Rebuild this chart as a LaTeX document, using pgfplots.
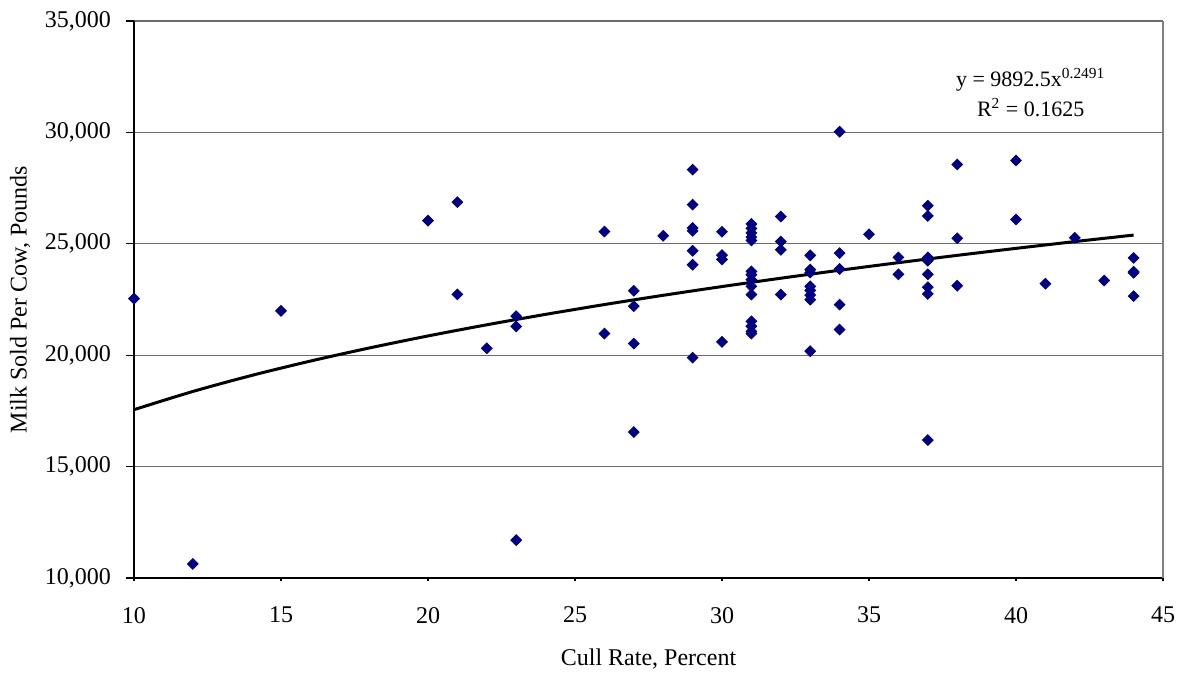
\documentclass[border=0pt]{standalone}
\usepackage{fontspec}
\setmainfont{Liberation Serif}
\usepackage{pgfplots}
\pgfplotsset{compat=1.18}
\definecolor{navy}{HTML}{000080}

\begin{document}
\begin{tikzpicture}
\begin{axis}[
    name=ax,
    scale only axis,
    width=514.5pt,
    height=278.5pt,
    xmin=10, xmax=45,
    ymin=10000, ymax=35000,
    xtick={10,15,...,45},
    ytick={10000,15000,...,35000},
    axis x line*=bottom,
    axis y line*=left,
    tick align=outside,
    major tick length=4pt,
    xtick style={/pgfplots/major tick length=1.5pt},
    tick style={black, line width=0.6pt},
    axis line style={black, line width=0.6pt, -},
    ymajorgrids,
    grid style={gray!85!black, line width=0.6pt},
    /pgf/number format/assume math mode=true,
    /pgf/number format/1000 sep={,},
    scaled y ticks=false,
    ticklabel style={font=\fontsize{12}{14}\selectfont},
    x tick label style={yshift=-7pt},
    y tick label style={xshift=-4pt},
    xlabel={Cull Rate, Percent},
    ylabel={Milk Sold Per Cow, Pounds},
    label style={font=\fontsize{12}{14}\selectfont},
    xlabel style={yshift=-6pt},
    ylabel style={yshift=0.5pt},
    clip=false,
]
% trend line y = 9892.5 x^0.2491, tabulated
\addplot[black, line width=1.5pt, smooth] coordinates {
(10,17555) (12,18371) (14,19091) (16,19736) (18,20323) (20,20864)
(22,21365) (24,21833) (26,22273) (28,22688) (30,23081) (32,23455)
(34,23812) (36,24153) (38,24481) (40,24795) (42,25099) (44,25391)
};
\addplot[only marks, mark=square*, mark size=1.9pt,
         mark options={rotate=45, fill=navy, draw=navy}] table {
x y
10 22540
12 10630
15 21990
20 26040
21 26870
21 22730
22 20310
23 21750
23 21290
23 11700
26 25550
26 20970
27 22890
27 22200
27 20520
27 16550
28 25360
29 28330
29 26760
29 25710
29 25580
29 24690
29 24060
29 19890
30 25540
30 24490
30 24300
30 20600
31 25890
31 25690
31 25490
31 25300
31 25150
31 23760
31 23610
31 23390
31 23090
31 22720
31 21520
31 21300
31 21070
31 20970
32 26220
32 25100
32 24730
32 22720
33 24480
33 23840
33 23710
33 23090
33 22910
33 22700
33 22490
33 20180
34 30030
34 24580
34 23870
34 22270
34 21150
35 25430
36 24390
36 23630
37 26710
37 26250
37 24390
37 24240
37 23630
37 23050
37 22750
37 16190
38 28560
38 25250
38 23120
40 28740
40 26090
41 23210
42 25270
43 23350
44 24370
44 23750
44 23700
44 22650
};
\draw[gray, line width=0.8pt] (rel axis cs:1,0) -- (rel axis cs:1,1);
\node[align=center, font=\fontsize{11}{15}\selectfont] at (axis cs:40.5,31800)
  {y = 9892.5x\textsuperscript{0.2491}\\R\textsuperscript{2} = 0.1625};
\end{axis}
\pgfresetboundingbox
\useasboundingbox ([xshift=-67pt,yshift=-47.5pt]ax.south west)
  rectangle ([xshift=8pt,yshift=10.5pt]ax.north east);
\end{tikzpicture}
\end{document}
